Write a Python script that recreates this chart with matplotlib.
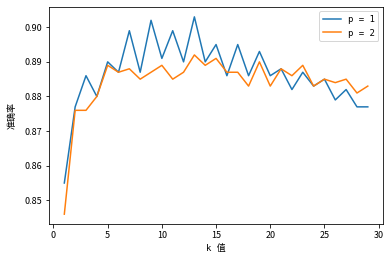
import matplotlib
matplotlib.use('Agg')
import matplotlib.pyplot as plt

plt.rcParams['font.family'] = ['Noto Sans CJK SC', 'DejaVu Sans']
plt.rcParams['axes.unicode_minus'] = False

# k values and accuracy for the two distance metrics
k_values = list(range(1, 30))
acc_p1 = [0.855, 0.877, 0.886, 0.880, 0.890, 0.887, 0.899, 0.887, 0.902, 0.891,
          0.899, 0.890, 0.903, 0.890, 0.895, 0.886, 0.895, 0.886, 0.893, 0.886,
          0.888, 0.882, 0.887, 0.883, 0.885, 0.879, 0.882, 0.877, 0.877]
acc_p2 = [0.846, 0.876, 0.876, 0.880, 0.889, 0.887, 0.888, 0.885, 0.887, 0.889,
          0.885, 0.887, 0.892, 0.889, 0.891, 0.887, 0.887, 0.883, 0.890, 0.883,
          0.888, 0.886, 0.889, 0.883, 0.885, 0.884, 0.885, 0.881, 0.883]

mono = ['DejaVu Sans Mono', 'Noto Sans CJK SC']

fig = plt.figure(figsize=(390 / 72, 259 / 72), dpi=72)
ax = fig.add_subplot(111)
fig.subplots_adjust(left=0.126, right=0.982, top=0.973, bottom=0.135)

ax.plot(k_values, acc_p1, color='#1f77b4', label='p = 1')
ax.plot(k_values, acc_p2, color='#ff7f0e', label='p = 2')

ax.set_xlabel('k 值', fontsize=9, family=mono)
ax.set_ylabel('准确率', fontsize=9, labelpad=8)
ax.set_xticks([0, 5, 10, 15, 20, 25, 30])
ax.set_yticks([0.85, 0.86, 0.87, 0.88, 0.89, 0.90])
ax.set_yticklabels(['0.85', '0.86', '0.87', '0.88', '0.89', '0.90'])
ax.tick_params(labelsize=9)
ax.legend(prop={'family': mono, 'size': 9})

fig.savefig('out.png', dpi=72)
